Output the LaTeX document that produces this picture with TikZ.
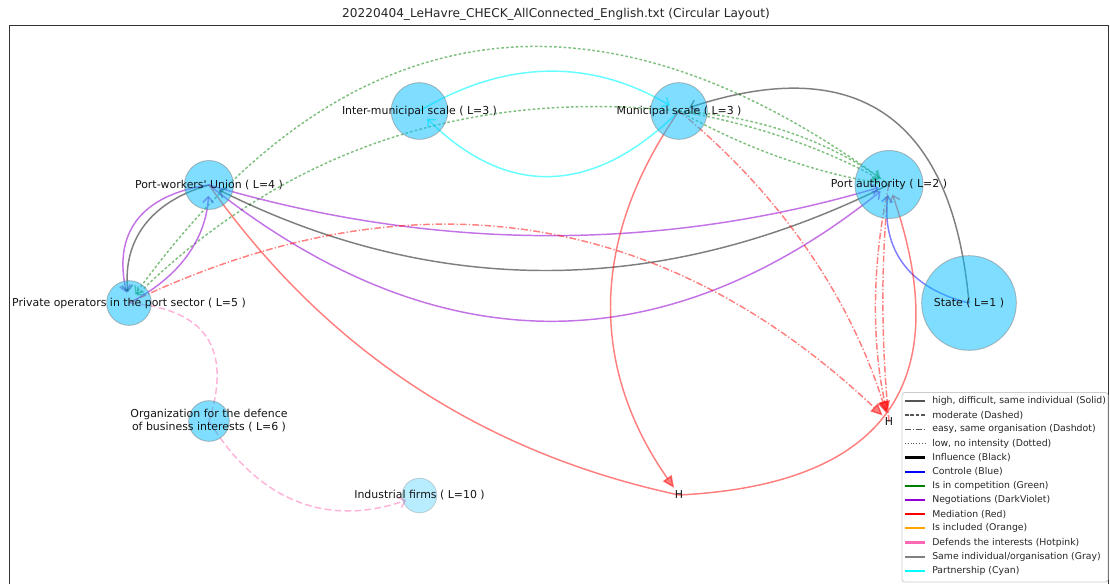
\documentclass[tikz,border=0pt]{standalone}
\usepackage{fontspec}
\setmainfont{DejaVu Sans}[Ligatures=TeXOff]
\usetikzlibrary{arrows.meta}
\pgfdeclarelayer{edgelayer}
\pgfsetlayers{edgelayer,main}
\definecolor{skyfill}{RGB}{0,191,255}
\definecolor{darkviolet}{RGB}{148,0,211}
\definecolor{hotpink}{RGB}{255,105,180}
\definecolor{mgreen}{RGB}{0,128,0}
\definecolor{morange}{RGB}{255,165,0}
\definecolor{mcyan}{RGB}{0,255,255}
\definecolor{mblue}{RGB}{0,0,255}
\definecolor{mred}{RGB}{255,0,0}
\definecolor{mgray}{RGB}{128,128,128}
\definecolor{legtext}{RGB}{38,38,38}
\definecolor{lbltext}{RGB}{20,20,20}
\definecolor{legline}{RGB}{85,85,85}
\tikzset{
  ent/.style={circle, fill=skyfill, fill opacity=0.5, draw=gray, draw opacity=0.5, line width=0.7pt, inner sep=0pt},
  lbl/.style={font=\fontsize{8.2}{9.8}\selectfont, text=lbltext, inner sep=0pt, align=center},
  hnode/.style={font=\fontsize{8.2}{9.8}\selectfont, text=lbltext, inner sep=0pt},
  lnk/.style={line width=1.1pt, opacity=0.5, shorten >=8pt},
  arr/.style={-{Straight Barb[length=4.5pt,width=8pt]}},
  tri/.style={-{Triangle[length=9pt,width=8pt]}, shorten >=6.5pt},
  dotE/.style={dash pattern=on 2pt off 1.6pt},
  dashE/.style={dash pattern=on 5pt off 2.5pt},
  ddE/.style={dash pattern=on 5pt off 1.6pt on 1pt off 1.6pt},
  cyanE/.style={draw=mcyan, opacity=0.6},
  greenE/.style={draw=mgreen},
  violetE/.style={draw=darkviolet, opacity=0.55},
  blackE/.style={draw=black},
  blueE/.style={draw=mblue},
  redE/.style={draw=mred},
  pinkE/.style={draw=hotpink},
  legtxt/.style={font=\fontsize{7}{8.4}\selectfont, text=legtext, anchor=west, inner sep=0pt},
  lsty0/.style={draw=legline},
  lsty1/.style={draw=legline, dash pattern=on 2.8pt off 1.2pt},
  lsty2/.style={draw=legline, dash pattern=on 4.8pt off 1.2pt on 0.8pt off 1.2pt},
  lsty3/.style={draw=legline, dash pattern=on 0.8pt off 1.3pt},
}
\begin{document}
\begin{tikzpicture}[x=0.75pt,y=-0.75pt]
\begin{pgfonlayer}{edgelayer}
\fill[white] (0,0) rectangle (1110,584);
\end{pgfonlayer}

% title and frame
\node[font=\fontsize{9.1}{11}\selectfont, text=legtext] (title) at (556,14) {20220404\_LeHavre\_CHECK\_AllConnected\_English.txt (Circular Layout)};
\draw[line width=0.8pt, black!80] (9.5,584) -- (9.5,25.5) -- (1108.5,25.5) -- (1108.5,584);

% nodes
\node[ent, minimum size=36.75pt] (PW) at (209,185) {};
\node[ent, minimum size=33.5pt] (PO) at (129,303) {};
\node[ent, minimum size=42.5pt] (IM) at (419.5,111) {};
\node[ent, minimum size=42.5pt] (MU) at (679,111) {};
\node[ent, minimum size=51pt] (PA) at (889,184.5) {};
\node[ent, minimum size=71pt] (ST) at (969,303) {};
\node[ent, minimum size=30.5pt] (OD) at (209,421) {};
\node[ent, fill opacity=0.28, draw opacity=0.3, minimum size=26pt] (IF) at (419.5,495.5) {};
\node[hnode] (H1) at (679,495) {H};
\node[hnode] (H2) at (889,421.5) {H};

% labels
\node[lbl] (PWl) at (PW) {Port-workers' Union ( L=4 )};
\node[lbl] (POl) at (PO) {Private operators in the port sector ( L=5 )};
\node[lbl] (IMl) at (IM) {Inter-municipal scale ( L=3 )};
\node[lbl] (MUl) at (MU) {Municipal scale ( L=3 )};
\node[lbl] (PAl) at (PA) {Port authority ( L=2 )};
\node[lbl] (STl) at (ST) {State ( L=1 )};
\node[lbl] (ODl) at (OD) {Organization for the defence\\of business interests ( L=6 )};
\node[lbl] (IFl) at (IF) {Industrial firms ( L=10 )};

\begin{pgfonlayer}{edgelayer}
\begin{scope}[overlay]
% cyan partnership
\draw[lnk, cyanE, arr] (IM.center) .. controls (505.7,59) and (592.3,59) .. (MU.center);
\draw[lnk, cyanE, arr] (MU.center) .. controls (592.3,197) and (505.7,197) .. (IM.center);
% green competition (dotted)
\draw[lnk, greenE, dotE, arr] (PA.center) .. controls (595.7,-32.3) and (342.3,8) .. (PO.center);
\draw[lnk, greenE, dotE, arr] (MU.center) .. controls (465,88.3) and (281.7,152.3) .. (PO.center);
\draw[lnk, greenE, dotE, arr] (MU.center) .. controls (755.9,115.7) and (825.9,140) .. (PA.center);
\draw[lnk, greenE, dotE, arr] (MU.center) .. controls (753.2,123.7) and (823.2,148) .. (PA.center);
\draw[lnk, greenE, dotE, arr] (MU.center) .. controls (744.6,148.3) and (814.6,172.6) .. (PA.center);
% negotiations / influence between PW, PO, PA
\draw[lnk, violetE, arr] (PW.center) .. controls (139.7,195) and (113,234.3) .. (PO.center);
\draw[lnk, blackE, arr] (PW.center) .. controls (149.3,202) and (122.6,241.3) .. (PO.center);
\draw[lnk, violetE, arr] (PO.center) .. controls (179.7,277.7) and (206.3,238.3) .. (PW.center);
\draw[lnk, violetE, arr] (PW.center) .. controls (435.7,252.3) and (662.3,251.7) .. (PA.center);
\draw[lnk, blackE, arr] (PA.center) .. controls (662.3,298) and (435.7,298.3) .. (PW.center);
\draw[lnk, violetE, arr] (PW.center) .. controls (435.7,365.3) and (662.3,365.7) .. (PA.center);
% same individual State - MU
\draw[lnk, blackE, arr] (ST.center) .. controls (952.3,116.3) and (856.3,52.3) .. (MU.center);
% control State -> PA
\draw[lnk, blueE, arr] (ST.center) .. controls (907.7,288) and (881.7,248.3) .. (PA.center);
% mediation (red)
\draw[lnk, redE, tri] (MU.center) .. controls (589.7,239) and (589.7,367) .. (H1.center);
\draw[lnk, redE, arr] (H1.center) .. controls (887,484.7) and (957.1,381) .. (PA.center);
\draw[lnk, redE, shorten >=0pt] (PW.center) .. controls (325.3,349.5) and (481.9,452.9) .. (H1.center);
\draw[lnk, redE, ddE, tri] (PO.center) .. controls (409,168.5) and (662.3,207.8) .. (H2.center);
\draw[lnk, redE, ddE, tri] (MU.center) .. controls (779.7,193.4) and (849.7,296.7) .. (H2.center);
\draw[lnk, redE, ddE, tri] (PA.center) .. controls (871.7,262.8) and (871.7,342.2) .. (H2.center);
\draw[lnk, redE, ddE] (H2.center) .. controls (881,342) and (881,263) .. (PA.center);
% defends the interests (hotpink, dashed)
\draw[lnk, pinkE, dashE, shorten >=0pt] (PO.center) .. controls (205.7,309) and (232.3,348.3) .. (OD.center);
\draw[lnk, pinkE, dashE, arr, shorten >=10.5pt] (OD.center) .. controls (259,502.6) and (329,527.3) .. (IF.center);
\end{scope}
\end{pgfonlayer}

% legend
\draw[rounded corners=2pt, draw=black!20, fill=white, fill opacity=0.8, line width=0.6pt] (902,392.5) rectangle (1108,582);
\foreach \i/\txt in {
  0/{high, difficult, same individual (Solid)},
  1/{moderate (Dashed)},
  2/{easy, same organisation (Dashdot)},
  3/{low, no intensity (Dotted)}} {
  \draw[line width=1.1pt, lsty\i] (905,401+14.15*\i) -- (925,401+14.15*\i);
  \node[legtxt] (lg\i) at (932,401+14.15*\i) {\txt};
}
\foreach \i/\col/\txt in {
  4/black/{Influence (Black)},
  5/mblue/{Controle (Blue)},
  6/mgreen/{Is in competition (Green)},
  7/darkviolet/{Negotiations (DarkViolet)},
  8/mred/{Mediation (Red)},
  9/morange/{Is included (Orange)},
  10/hotpink/{Defends the interests (Hotpink)},
  11/mgray/{Same individual/organisation (Gray)},
  12/mcyan/{Partnership (Cyan)}} {
  \draw[line width=1.7pt, draw=\col] (905,401+14.15*\i) -- (925,401+14.15*\i);
  \node[legtxt] (lg\i) at (932,401+14.15*\i) {\txt};
}
\end{tikzpicture}
\end{document}
